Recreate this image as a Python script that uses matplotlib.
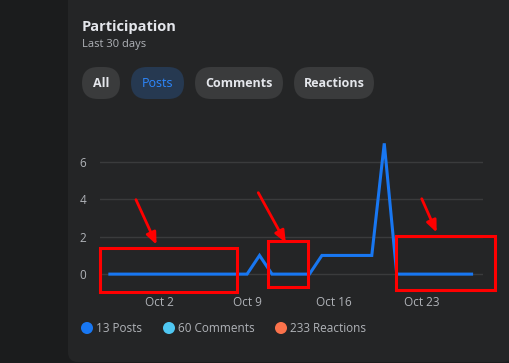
import matplotlib.pyplot as plt
import matplotlib.dates as mdates
from matplotlib.patches import FancyBboxPatch, Rectangle
import pandas as pd

plt.rcParams['font.family'] = ['Open Sans', 'DejaVu Sans']

# data
dates = pd.date_range('2023-09-28', periods=30)
posts = [0, 0, 0, 0, 0, 0, 0, 0, 0, 0, 0, 0, 1, 0, 0, 0, 0,
         1, 1, 1, 1, 1, 7, 0, 0, 0, 0, 0, 0, 0]
tick_dates = ['2023-10-02', '2023-10-09', '2023-10-16', '2023-10-23']
tick_labels = ['Oct 2', 'Oct 9', 'Oct 16', 'Oct 23']
y_ticks = [0, 2, 4, 6]
tabs = ['All', 'Posts', 'Comments', 'Reactions']
active_tab = 'Posts'
legend_labels = ['13 Posts', '60 Comments', '233 Reactions']
legend_colors = ['#1877f2', '#4fc7f2', '#fb724b']

# highlighted ranges (start date, end date, low, high) and arrows
boxes = [('2023-09-27 05:00', '2023-10-08 05:00', -0.96, 1.39),
         ('2023-10-10 16:00', '2023-10-13 21:00', -0.7, 1.76),
         ('2023-10-20 22:00', '2023-10-28 22:00', -0.86, 2.03)]
arrows = [('2023-09-30', 4.12, '2023-10-01 20:00', 1.44),
          ('2023-10-09 19:00', 4.49, '2023-10-12 05:00', 1.55),
          ('2023-10-22 22:00', 4.17, '2023-10-24 07:00', 2.09)]

bg_color = '#242526'
text_light = '#e4e6eb'
text_dim = '#b0b3b8'
blue = '#1877f2'
red = '#ff0000'

fig = plt.figure(figsize=(5.1, 3.63), dpi=100)
fig.patch.set_facecolor('#1b1c1d')

# background layer in pixel coordinates
bg = fig.add_axes([0, 0, 1, 1], zorder=0)
bg.set_xlim(0, 510)
bg.set_ylim(363, 0)
bg.axis('off')
bg.add_patch(FancyBboxPatch((68, -30), 445, 392, boxstyle='round,pad=0,rounding_size=10',
                            facecolor=bg_color, edgecolor='none'))
bg.text(82, 27, 'Participation', color=text_light, fontsize=10.5, fontweight='bold', va='center')
bg.text(82, 45, 'Last 30 days', color=text_dim, fontsize=8, va='center')

tab_x = [(82, 120), (131, 184), (195, 283), (294, 374)]
for (x0, x1), name in zip(tab_x, tabs):
    active = name == active_tab
    bg.add_patch(FancyBboxPatch((x0, 67), x1 - x0, 32, boxstyle='round,pad=0,rounding_size=16',
                                facecolor='#263951' if active else '#3a3b3c', edgecolor='none'))
    bg.text((x0 + x1) / 2, 83.5, name, color='#2d88ff' if active else text_light,
            fontsize=9, fontweight='normal' if active else 'bold', ha='center', va='center')

legend_x = [87, 169, 281]
for x, label, c in zip(legend_x, legend_labels, legend_colors):
    bg.scatter([x], [328], s=75, color=c, edgecolor='none')
    bg.text(x + 9, 328, label, color=text_dim, fontsize=8.5, va='center')

# chart
ax = fig.add_axes([100 / 510, 1 - 290 / 363, 383 / 510, 156 / 363], zorder=1)
ax.set_facecolor('none')
ax.plot(dates, posts, color=blue, linewidth=2.2, solid_joinstyle='miter')
ax.set_xlim(dates[0] - pd.Timedelta(hours=19), dates[-1] + pd.Timedelta(hours=22))
ax.set_ylim(-0.85, 7.5)
ax.set_yticks(y_ticks)
ax.set_xticks(pd.to_datetime(tick_dates))
ax.set_xticklabels(tick_labels)
ax.tick_params(colors=text_dim, labelsize=8.5, length=0)
ax.tick_params(axis='y', pad=10)
ax.tick_params(axis='x', pad=4)
ax.grid(axis='y', color='#3a3b3c', linewidth=1)
ax.set_axisbelow(True)
for s in ax.spines.values():
    s.set_visible(False)

for x0, x1, lo, hi in boxes:
    d0 = mdates.date2num(pd.Timestamp(x0))
    d1 = mdates.date2num(pd.Timestamp(x1))
    ax.add_patch(Rectangle((d0, lo), d1 - d0, hi - lo, fill=False, edgecolor=red,
                           linewidth=2.2, clip_on=False, zorder=5))
for tx, ty, hx, hy in arrows:
    ax.annotate('', xy=(pd.Timestamp(hx), hy), xytext=(pd.Timestamp(tx), ty),
                arrowprops=dict(arrowstyle='-|>,head_length=0.7,head_width=0.3',
                                color=red, linewidth=2), annotation_clip=False, zorder=5)

fig.savefig('out.png', dpi=100, facecolor=fig.get_facecolor())
